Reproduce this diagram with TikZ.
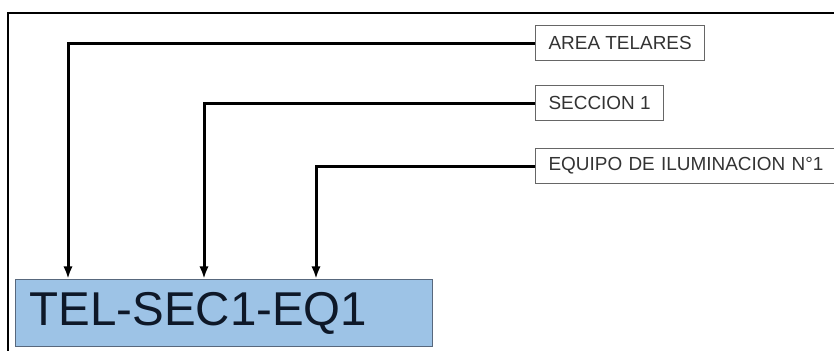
\documentclass[tikz,border=0pt]{standalone}
\usepackage{fontspec}
\setmainfont{Liberation Sans}
\usetikzlibrary{arrows.meta,calc}

\definecolor{codefill}{RGB}{157,195,230}
\definecolor{codeedge}{RGB}{88,104,125}
\definecolor{codetext}{RGB}{14,24,40}

\tikzset{
    tag/.style={draw=black!60,line width=0.9pt,text=black!80,anchor=west,
        inner xsep=9.75pt,minimum height=26.25pt,
        font=\fontsize{14.2pt}{16pt}\selectfont},
    codebox/.style={draw=codeedge,fill=codefill,line width=1pt,text=codetext,
        anchor=north west,text width=291.75pt,align=left,inner xsep=10.5pt,
        minimum height=50.25pt,font=\fontsize{35.6pt}{40pt}\selectfont},
    link/.style={line width=2.25pt,-{Latex[length=9.5pt,width=7pt]}},
}

\begin{document}
\begin{tikzpicture}[x=0.75pt,y=-0.75pt]
    \useasboundingbox (0,0) rectangle (834,350);
    \draw[line width=1.6pt] (8,352) |- (836,13);

    \node[tag] (area) at (535,43) {AREA TELARES};
    \node[tag] (seccion) at (535,103) {SECCION 1};
    \node[tag,align=left,text width=212pt] (equipo) at (535,166) {EQUIPO DE ILUMINACION N°1};
    \node[codebox] (code) at (15,279) {TEL-SEC1-EQ1};

    %\draw[link] (area.west) -| (code.north);
    \draw[link] (area.west) -| ($(code.north west)+(53,0)$);
    \draw[link] (seccion.west) -| ($(code.north west)+(189,0)$);
    \draw[link] (equipo.west) -| ($(code.north west)+(301,0)$);
\end{tikzpicture}
\end{document}
